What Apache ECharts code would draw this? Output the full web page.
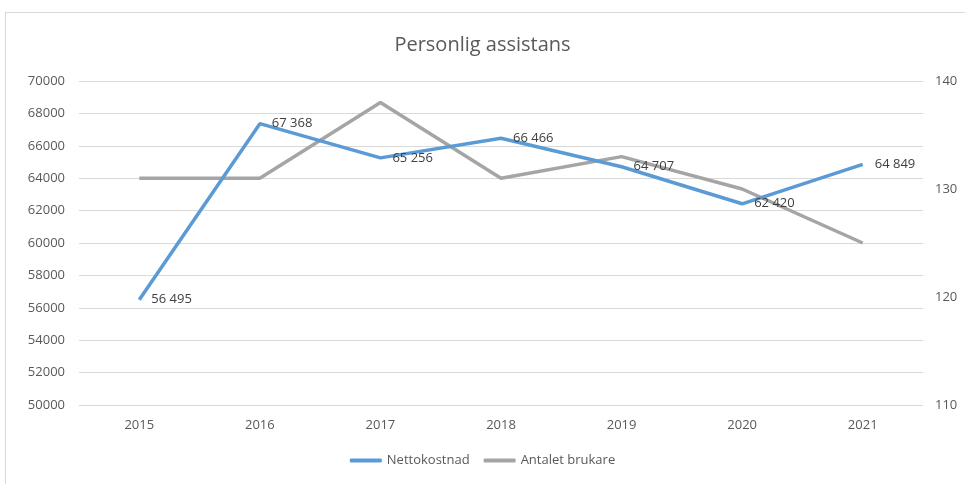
<!DOCTYPE html>
<html>
<head>
<meta charset="utf-8">
<script src="https://cdn.jsdelivr.net/npm/echarts@6/dist/echarts.min.js"></script>
<style>
html, body { margin: 0; padding: 0; background: #fff; }
#frame { position: absolute; left: 5px; top: 12px; width: 980px; height: 490px; border: 1px solid #d9d9d9; box-sizing: border-box; }
#main { position: absolute; left: 0; top: 0; width: 965px; height: 484px; }
</style>
</head>
<body>
<div id="frame"></div>
<div id="main"></div>
<script>
// data
const years = ['2015', '2016', '2017', '2018', '2019', '2020', '2021']
const nettokostnad = [56495, 67368, 65256, 66466, 64707, 62420, 64849]
const brukare = [131, 131, 138, 131, 133, 130, 125]

const font = '"Open Sans", "Liberation Sans", sans-serif'
const txt = '#595959'

let myChart = echarts.init(document.getElementById('main'))
let option = {
  animation: false,
  title: {
    text: 'Personlig assistans',
    left: 'center',
    top: 30,
    textStyle: { fontFamily: font, fontSize: 20, fontWeight: 'normal', color: txt }
  },
  legend: {
    bottom: 12,
    left: 'center',
    itemWidth: 32,
    itemHeight: 4,
    itemGap: 14,
    icon: 'roundRect',
    textStyle: { fontFamily: font, fontSize: 13, color: txt },
    data: ['Nettokostnad', 'Antalet brukare']
  },
  grid: { left: 79, right: 42, top: 81, bottom: 79 },
  xAxis: {
    type: 'category',
    data: years,
    axisLine: { show: false },
    axisTick: { show: false },
    axisLabel: { fontFamily: font, fontSize: 13, color: txt, margin: 14 }
  },
  yAxis: [
    {
      type: 'value',
      min: 50000,
      max: 70000,
      interval: 2000,
      axisLine: { show: false },
      axisTick: { show: false },
      axisLabel: { fontFamily: font, fontSize: 13, color: txt, margin: 14, formatter: function (v) { return String(v) } },
      splitLine: { lineStyle: { color: '#d9d9d9', width: 1 } }
    },
    {
      type: 'value',
      min: 110,
      max: 140,
      interval: 10,
      axisLine: { show: false },
      axisTick: { show: false },
      axisLabel: { fontFamily: font, fontSize: 13, color: txt, margin: 12 },
      splitLine: { show: false }
    }
  ],
  series: [
    {
      name: 'Nettokostnad',
      type: 'line',
      data: nettokostnad,
      symbol: 'circle',
      symbolSize: 0,
      showSymbol: true,
      z: 3,
      lineStyle: { color: '#5b9bd5', width: 3.5 },
      itemStyle: { color: '#5b9bd5' },
      label: {
        show: true,
        position: 'right',
        distance: 12,
        fontFamily: font,
        fontSize: 13,
        color: '#404040',
        formatter: function (p) {
          return String(p.value).replace(/\B(?=(\d{3})+(?!\d))/g, ' ')
        }
      }
    },
    {
      name: 'Antalet brukare',
      type: 'line',
      yAxisIndex: 1,
      data: brukare,
      symbol: 'none',
      z: 2,
      lineStyle: { color: '#a5a5a5', width: 3.5 },
      itemStyle: { color: '#a5a5a5' }
    }
  ]
}
myChart.setOption(option)
</script>
</body>
</html>
